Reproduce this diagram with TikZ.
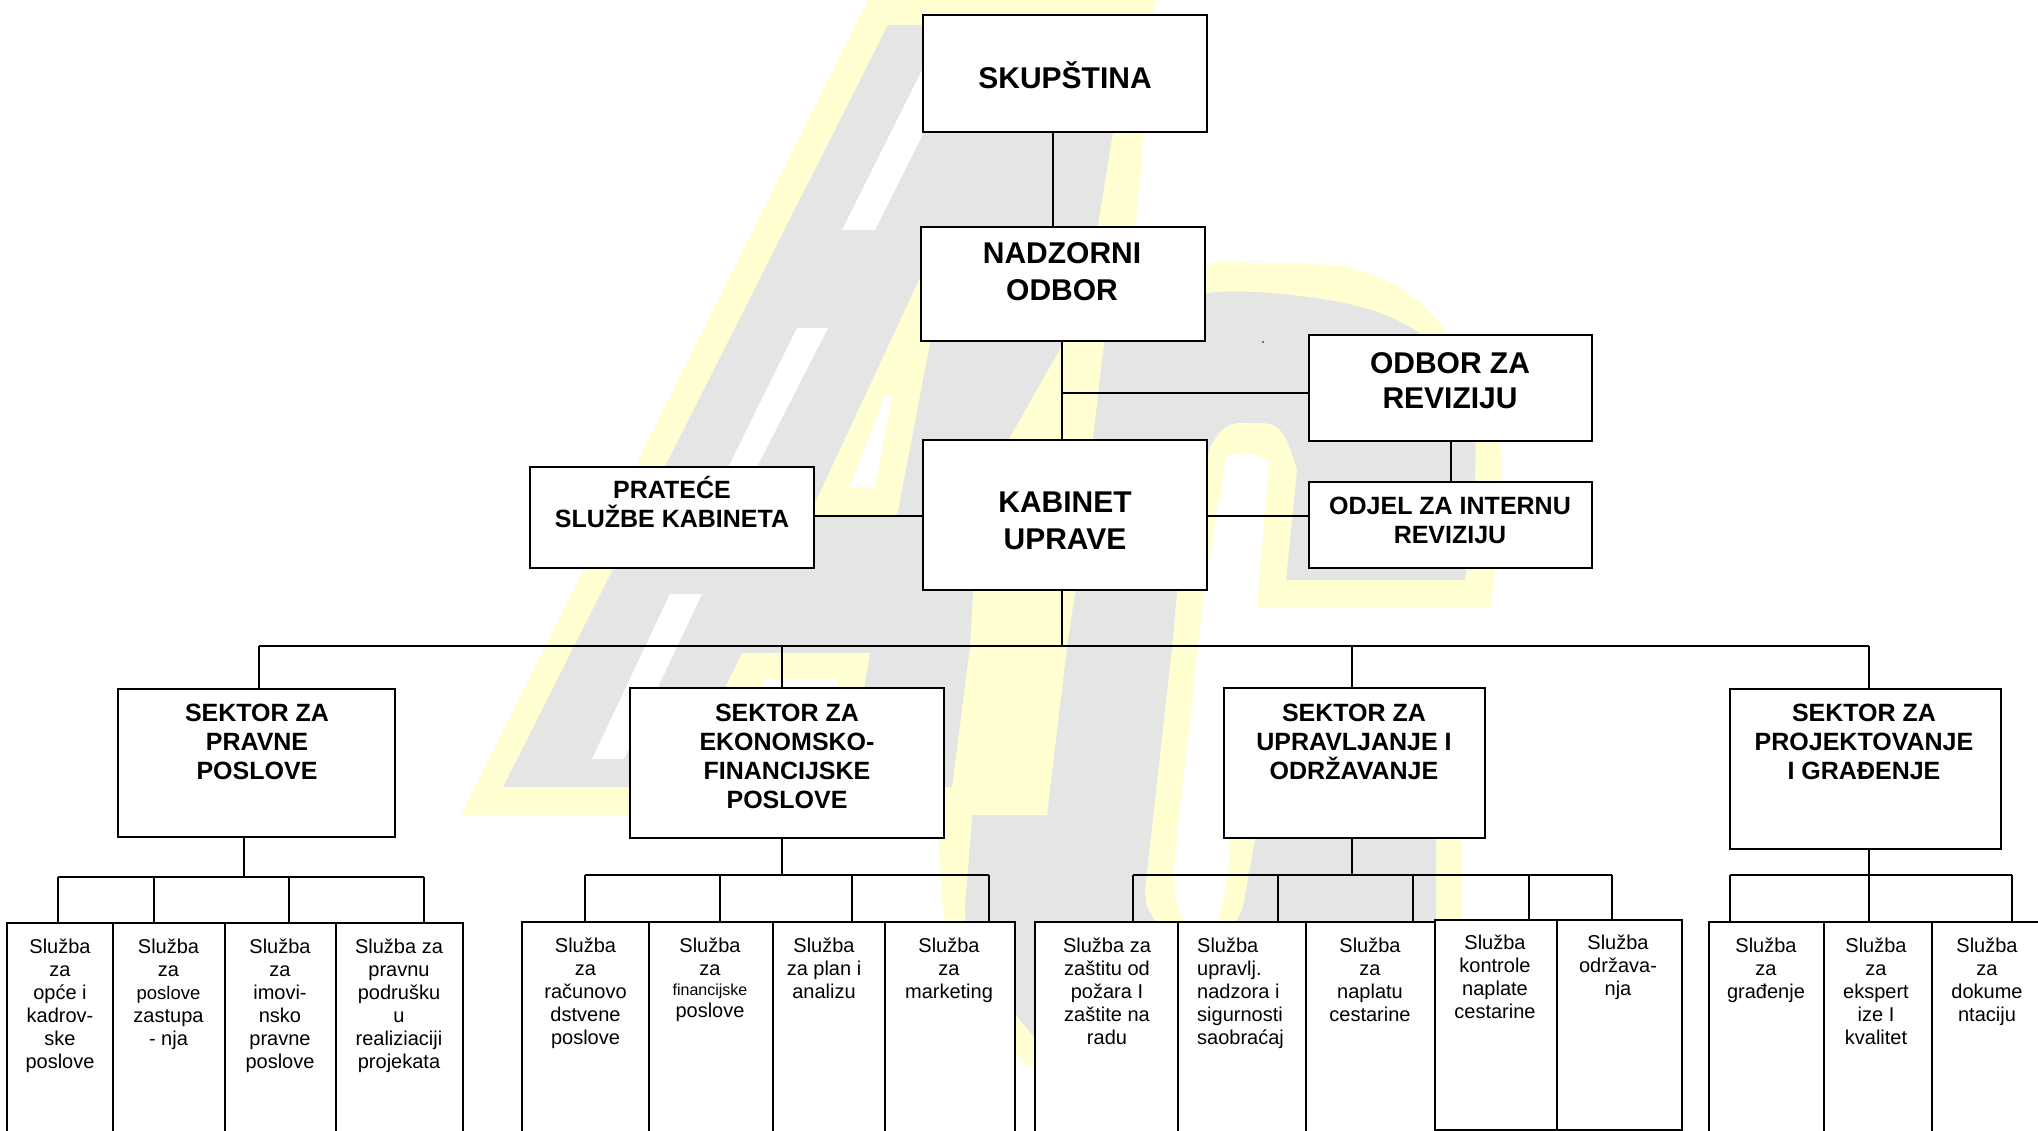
\documentclass[tikz,border=0pt]{standalone}
\usepackage{fontspec}
\setmainfont{Liberation Sans}
\definecolor{yel}{HTML}{FFFFD2}
\definecolor{gry}{HTML}{E5E5E5}
\newcommand\BX[5]{\pgfmathsetlengthmacro\boxW{#4-#2}\pgfmathsetlengthmacro\boxH{#5-#3}%
  \node[boxst,minimum width=\boxW,minimum height=\boxH] (#1) at ({(#2+#4)/2},{(#3+#5)/2}) {};}
\tikzset{
  boxst/.style={draw=black,line width=1.7pt,fill=white,inner sep=0pt,outer sep=0pt},
  conn/.style={draw=black,line width=1.9pt},
  sluzba/.style={anchor=north,inner sep=0pt,align=center,font=\fontsize{20}{23}\selectfont,execute at begin node=\strut},
  secttxt/.style={anchor=north,inner sep=0pt,align=center,font=\fontsize{25}{29}\selectfont\bfseries,execute at begin node=\strut},
  bigtxt/.style={anchor=north,inner sep=0pt,align=center,font=\fontsize{30}{37}\selectfont\bfseries,execute at begin node=\strut},
}
\begin{document}
\begin{tikzpicture}[x=1pt,y=-1pt]
\useasboundingbox (0,0) rectangle (2038,1131);
\clip (0,0) rectangle (2038,1131);
% ---- background logo ----
\fill[yel] plot[smooth,tension=.6] coordinates {(938,820)(943,907)(960,990)(1022,1060)(1035,1067)(1100,1085)} -- (1462,1085) -- (1462,700) -- (1040,700) -- cycle;
\fill[yel] plot[smooth,tension=.6] coordinates {(1120,330)(1206,267)(1255,263)(1369,273)(1447,333)(1500,447)(1490,607)} -- (1257,607) -- (1235,700) -- (1145,700) -- cycle;
\fill[gry] plot[smooth,tension=.6] coordinates {(1130,320)(1206,293)(1308,297)(1390,317)(1443,357)(1475,440)(1465,580)} -- (1286,580) -- (1297,470) -- plot[smooth,tension=.7] coordinates {(1297,470)(1280,430)(1250,423)(1226,427)(1210,447)} -- (1177,593) -- (1172,647) -- (1145,890) -- (1147,907) -- (1157,925) -- (1165,1000) -- (1050,1050) -- plot[smooth,tension=.6] coordinates {(1035,1037)(1025,1026)(975,960)(965,907)} -- (972,820) -- (980,600) -- (1060,340) -- cycle;
\fill[gry] (1255,700) -- (1255,840) -- (1243,907) -- (1233,930) -- (1233,1000) -- (1436,1000) -- (1436,700) -- cycle;
\fill[white] (1204,593) -- plot[smooth,tension=.7] coordinates {(1226,457)(1247,453)(1269,460)} -- (1257,607) -- (1240,700) -- (1228,873) -- (1222,907) -- (1217,925) -- (1187,925) -- (1177,907) -- (1173,873) -- cycle;
\fill[yel] (868,0) -- (1155,0) -- (1144,132) -- (1136,221) -- (1104,343) -- (1075,593) -- (1067,647) -- (1047,815) -- (461,815) -- cycle;
\fill[gry] (888,25) -- (1120,25) -- (1113,132) -- (1098,225) -- (1061,347) -- (1010,437) -- (973,593) -- (970,647) -- (952,787) -- (503,787) -- cycle;
\fill[yel] (940,235) -- (930,343) -- (897,516) -- (809,516) -- cycle;
\fill[white] (892,395) -- (885,395) -- (850,487) -- (875,487) -- cycle;
\fill[yel] (742,653) -- (870,653) -- (862,700) -- (719,700) -- cycle;
\fill[white] (765,679) -- (838,679) -- (835,700) -- (755,700) -- cycle;
\fill[white] (937,40) -- (970,40) -- (875,230) -- (842,230) -- cycle;
\fill[white] (797,328) -- (828,328) -- (740,500) -- (712,500) -- cycle;
\fill[white] (670,594) -- (702,594) -- (624,759) -- (592,759) -- cycle;
\fill[black] (1263,342) circle (0.9);
% ---- upper boxes ----
\BX{skup}{923}{15}{1207}{132}
\BX{nadz}{921}{227}{1205}{341}
\BX{odbor}{1309}{335}{1592}{441}
\BX{kab}{923}{440}{1207}{590}
\BX{prat}{530}{467}{814}{568}
\BX{odjel}{1309}{482}{1592}{568}
\BX{sa}{118}{689}{395}{837}
\BX{sb}{630}{688}{944}{838}
\BX{sc}{1224}{688}{1485}{838}
\BX{sd}{1730}{689}{2001}{849}
\coordinate (hub) at (1062,393);
\coordinate (busL) at (259,646);
\coordinate (busM) at (1062,646);
\coordinate (busB) at (782,646);
\coordinate (busC) at (1352,646);
\coordinate (busR) at (1869,646);
\draw[conn] (skup.south -| 1053,0) -- (nadz.north -| 1053,0);
\draw[conn] (nadz.south -| hub) -- (kab.north -| hub);
\draw[conn] (hub) -- (odbor.west |- hub);
\draw[conn] (odbor.south -| 1451,0) -- (odjel.north -| 1451,0);
\draw[conn] (prat.east |- 0,516) -- (kab.west |- 0,516);
\draw[conn] (kab.east |- 0,516) -- (odjel.west |- 0,516);
\draw[conn] (kab.south -| busM) -- (busM);
\draw[conn] (busL) -- (busR);
\draw[conn] (busL) -- (sa.north -| busL);
\draw[conn] (busB) -- (sb.north -| busB);
\draw[conn] (busC) -- (sc.north -| busC);
\draw[conn] (busR) -- (sd.north -| busR);
% ---- service boxes ----
\tikzset{boxst/.append style={line width=1.5pt}}
\BX{a1}{7}{923}{113}{1150}
\BX{a2}{113}{923}{225}{1150}
\BX{a3}{225}{923}{336}{1150}
\BX{a4}{336}{923}{463}{1150}
\BX{b1}{522}{922}{649}{1150}
\BX{b2}{649}{922}{773}{1150}
\BX{b3}{773}{922}{885}{1150}
\BX{b4}{885}{922}{1015}{1150}
\BX{c1}{1035}{922}{1178}{1150}
\BX{c2}{1178}{922}{1306}{1150}
\BX{c3}{1306}{922}{1435}{1150}
\BX{c4}{1435}{920}{1557}{1130}
\BX{c5}{1557}{920}{1682}{1130}
\BX{d1}{1709}{922}{1824}{1150}
\BX{d2}{1824}{922}{1932}{1150}
\BX{d3}{1932}{922}{2060}{1150}
% group buses
\coordinate (ga) at (244,877);
\coordinate (ga1) at (58,877);
\coordinate (ga2) at (154,877);
\coordinate (ga3) at (289,877);
\coordinate (ga4) at (424,877);
\draw[conn] (sa.south -| ga) -- (ga);
\draw[conn] (ga1) -- (ga4);
\draw[conn] (ga1) -- (a1.north -| ga1);
\draw[conn] (ga2) -- (a2.north -| ga2);
\draw[conn] (ga3) -- (a3.north -| ga3);
\draw[conn] (ga4) -- (a4.north -| ga4);
\coordinate (gb) at (782,875);
\coordinate (gb1) at (585,875);
\coordinate (gb2) at (720,875);
\coordinate (gb3) at (852,875);
\coordinate (gb4) at (989,875);
\draw[conn] (sb.south -| gb) -- (gb);
\draw[conn] (gb1) -- (gb4);
\draw[conn] (gb1) -- (b1.north -| gb1);
\draw[conn] (gb2) -- (b2.north -| gb2);
\draw[conn] (gb3) -- (b3.north -| gb3);
\draw[conn] (gb4) -- (b4.north -| gb4);
\coordinate (gc) at (1352,875);
\coordinate (gc1) at (1133,875);
\coordinate (gc2) at (1278,875);
\coordinate (gc3) at (1413,875);
\coordinate (gc4) at (1529,875);
\coordinate (gc5) at (1612,875);
\draw[conn] (sc.south -| gc) -- (gc);
\draw[conn] (gc1) -- (gc5);
\draw[conn] (gc1) -- (c1.north -| gc1);
\draw[conn] (gc2) -- (c2.north -| gc2);
\draw[conn] (gc3) -- (c3.north -| gc3);
\draw[conn] (gc4) -- (c4.north -| gc4);
\draw[conn] (gc5) -- (c5.north -| gc5);
\coordinate (gd) at (1869,875);
\coordinate (gd1) at (1730,875);
\coordinate (gd3) at (2012,875);
\draw[conn] (sd.south -| gd) -- (gd);
\draw[conn] (gd1) -- (gd3);
\draw[conn] (gd1) -- (d1.north -| gd1);
\draw[conn] (gd) -- (d2.north -| gd);
\draw[conn] (gd3) -- (d3.north -| gd3);
% ---- texts ----
\node[bigtxt] (tskup) at (1065,61.5) {SKUPŠTINA};
\node[bigtxt] (tnadz) at (1062,242) {NADZORNI\\ODBOR};
\node[bigtxt] (tkab) at (1065,492) {KABINET\\UPRAVE};
\node[bigtxt,font=\fontsize{30}{35}\selectfont\bfseries] (todb) at (1450,352) {ODBOR ZA\\REVIZIJU};
\node[secttxt] (todj) at (1450,497) {ODJEL ZA INTERNU\\REVIZIJU};
\node[secttxt] (tprat) at (672,476.5) {PRATEĆE\\SLUŽBE KABINETA};
\node[secttxt] (tsa) at (257,703.5) {SEKTOR ZA\\PRAVNE\\POSLOVE};
\node[secttxt] (tsb) at (787,703.5) {SEKTOR ZA\\EKONOMSKO-\\FINANCIJSKE\\POSLOVE};
\node[secttxt] (tsc) at (1354,703.5) {SEKTOR ZA\\UPRAVLJANJE I\\ODRŽAVANJE};
\node[secttxt] (tsd) at (1864,703.5) {SEKTOR ZA\\PROJEKTOVANJE\\I GRAĐENJE};
\node[sluzba] (ta1) at (60,938.5) {Služba\\za\\opće i\\kadrov-\\ske\\poslove};
\node[sluzba] (ta2) at (168.5,938.5) {Služba\\za\\{\fontsize{18.5}{23}\selectfont poslove}\\zastupa\\- nja};
\node[sluzba] (ta3) at (280,938.5) {Služba\\za\\imovi-\\nsko\\pravne\\poslove};
\node[sluzba] (ta4) at (399,938.5) {Služba za\\pravnu\\podrušku\\u\\realiziaciji\\projekata};
\node[sluzba] (tb1) at (585.5,937.5) {Služba\\za\\računovo\\dstvene\\poslove};
\node[sluzba] (tb2) at (710,937.5) {Služba\\za\\[-3pt]{\fontsize{16}{23}\selectfont financijske}\\[-1pt]poslove};
\node[sluzba] (tb3) at (824,937.5) {Služba\\za plan i\\analizu};
\node[sluzba] (tb4) at (949,937.5) {Služba\\za\\marketing};
\node[sluzba] (tc1) at (1107,937.5) {Služba za\\zaštitu od\\požara I\\zaštite na\\radu};
\node[sluzba,anchor=north west,align=left] (tc2) at (1197,937.5) {Služba\\upravlj.\\nadzora i\\sigurnosti\\saobraćaj};
\node[sluzba] (tc3) at (1370,937.5) {Služba\\za\\naplatu\\cestarine};
\node[sluzba] (tc4) at (1495,935) {Služba\\kontrole\\naplate\\cestarine};
\node[sluzba] (tc5) at (1618,935) {Služba\\održava-\\nja};
\node[sluzba] (td1) at (1766,937.5) {Služba\\za\\građenje};
\node[sluzba] (td2) at (1876,937.5) {Služba\\za\\ekspert\\ize I\\kvalitet};
\node[sluzba] (td3) at (1987,937.5) {Služba\\za\\dokume\\ntaciju};
\end{tikzpicture}
\end{document}
